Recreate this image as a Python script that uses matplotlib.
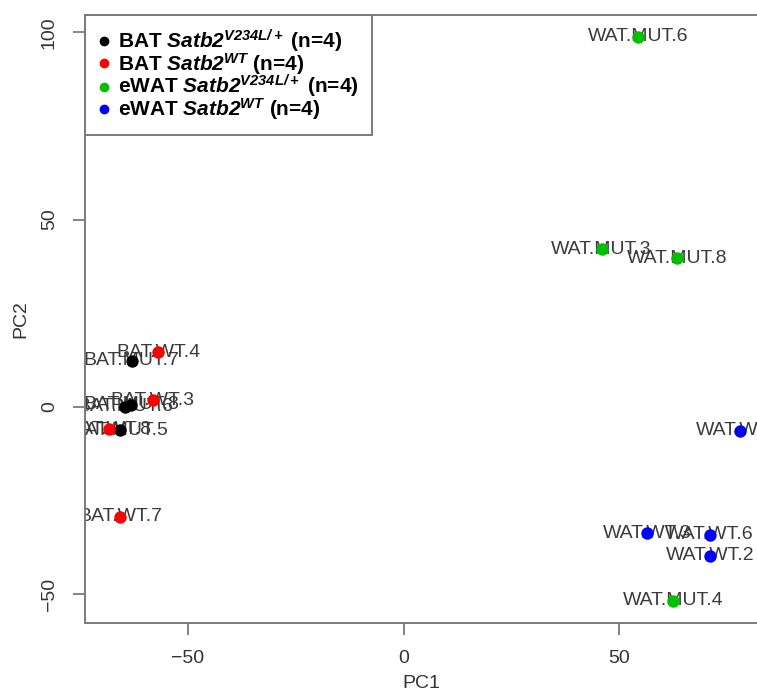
import matplotlib
matplotlib.use("Agg")
import matplotlib.pyplot as plt
from matplotlib.lines import Line2D

plt.rcParams['font.family'] = ['Liberation Sans', 'DejaVu Sans']
plt.rcParams['mathtext.fontset'] = 'custom'
plt.rcParams['mathtext.rm'] = 'Liberation Sans:bold'
plt.rcParams['mathtext.bf'] = 'Liberation Sans:bold'
plt.rcParams['mathtext.it'] = 'Liberation Sans:italic:bold'
plt.rcParams['mathtext.bfit'] = 'Liberation Sans:italic:bold'

# PCA scores
bat_mut_names = ["BAT.MUT.7", "BAT.MUT.8", "BAT.MUT.6", "BAT.MUT.5"]
bat_mut_pc1 = [-63.0, -63.1, -64.5, -65.7]
bat_mut_pc2 = [12.3, 0.5, 0.0, -6.2]

bat_wt_names = ["BAT.WT.4", "BAT.WT.3", "BAT.WT.8", "BAT.WT.7"]
bat_wt_pc1 = [-56.9, -58.1, -68.2, -65.7]
bat_wt_pc2 = [14.6, 1.8, -6.0, -29.3]

wat_mut_names = ["WAT.MUT.6", "WAT.MUT.3", "WAT.MUT.8", "WAT.MUT.4"]
wat_mut_pc1 = [54.4, 45.9, 63.3, 62.5]
wat_mut_pc2 = [98.8, 42.1, 39.7, -51.8]

wat_wt_names = ["WAT.WT.7", "WAT.WT.3", "WAT.WT.6", "WAT.WT.2"]
wat_wt_pc1 = [78.0, 56.5, 70.9, 71.0]
wat_wt_pc2 = [-6.4, -33.8, -34.2, -39.8]

groups = [
    (bat_mut_names, bat_mut_pc1, bat_mut_pc2, "black",
     r"BAT $\mathbfit{Satb2}^{\mathbfit{V234L/+}}$ (n=4)"),
    (bat_wt_names, bat_wt_pc1, bat_wt_pc2, "#ff0000",
     r"BAT $\mathbfit{Satb2}^{\mathbfit{WT}}$ (n=4)"),
    (wat_mut_names, wat_mut_pc1, wat_mut_pc2, "#00c000",
     r"eWAT $\mathbfit{Satb2}^{\mathbfit{V234L/+}}$ (n=4)"),
    (wat_wt_names, wat_wt_pc1, wat_wt_pc2, "#0000ff",
     r"eWAT $\mathbfit{Satb2}^{\mathbfit{WT}}$ (n=4)"),
]

W, H = 757, 698
fig = plt.figure(figsize=(W / 100, H / 100), dpi=100)
ax = fig.add_axes([85 / W, 1 - 623 / H, 1 - 85 / W, (623 - 15) / H])

grey = "#7a7a7a"
handles = []
for names, xs, ys, col, lab in groups:
    for n, x, y in zip(names, xs, ys):
        ax.text(x, y, n, ha="center", va="center", fontsize=14,
                color="#3a3a3a", clip_on=True, zorder=2)
    ax.scatter(xs, ys, s=80, color=col, zorder=3, linewidths=0)
    handles.append(Line2D([], [], marker="o", linestyle="none", color=col,
                          markersize=6, label=lab))

ax.set_xlim(-73.8, 81.9)
ax.set_ylim(-57.7, 104.6)
ax.set_xticks([-50, 0, 50])
ax.set_yticks([-50, 0, 50, 100])
ax.tick_params(axis="both", length=8.5, width=1.3, color=grey,
               labelsize=14, labelcolor="#333333", pad=11)
for lbl in ax.get_yticklabels():
    lbl.set_rotation(90)
    lbl.set_va("center")
for side in ["left", "bottom", "top"]:
    ax.spines[side].set_color(grey)
    ax.spines[side].set_linewidth(1.4)
ax.spines["right"].set_visible(False)

ax.set_xlabel("PC1", fontsize=14, color="#333333", labelpad=6)
ax.set_ylabel("PC2", fontsize=14, color="#333333", labelpad=8)

leg = ax.legend(handles=handles, loc="upper left", bbox_to_anchor=(0, 1),
                borderaxespad=0, fancybox=False, framealpha=1,
                prop={"size": 15, "weight": "bold"}, labelspacing=-0.18,
                handlelength=0.6, handletextpad=0.4, borderpad=0.6)
leg.get_frame().set_edgecolor(grey)
leg.get_frame().set_linewidth(1.4)

fig.savefig("out.png", dpi=100)
